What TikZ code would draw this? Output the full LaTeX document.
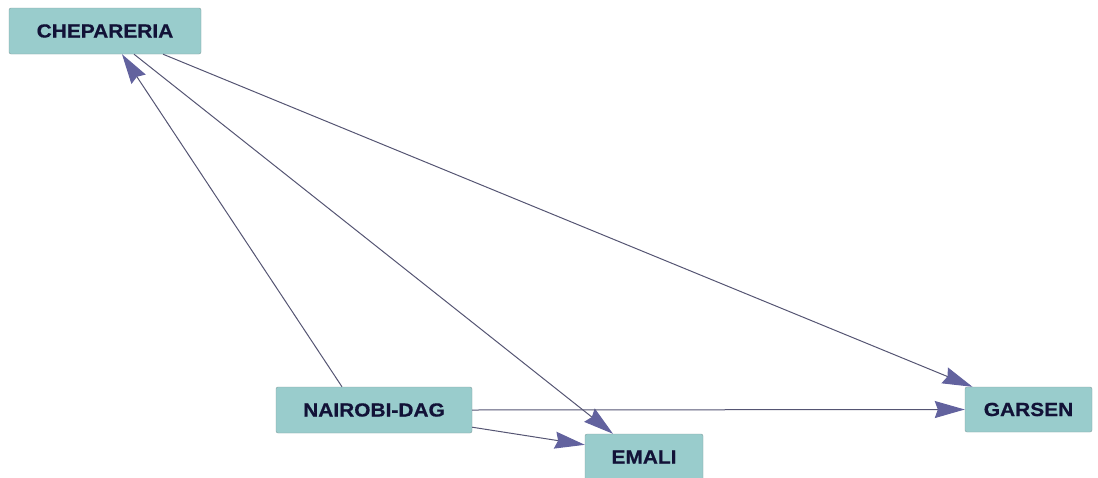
\documentclass[tikz,border=0pt]{standalone}
\usepackage{fontspec}
\setmainfont{Liberation Sans}[FakeStretch=1.1, BoldFeatures={FakeBold=0.6}]
\usetikzlibrary{arrows.meta,calc}
\definecolor{nodefill}{RGB}{153,204,204}
\definecolor{nodeborder}{RGB}{130,160,160}
\definecolor{edgecol}{RGB}{85,85,115}
\definecolor{tipcol}{RGB}{98,98,158}
\definecolor{textcol}{RGB}{18,18,55}
\tikzset{
  city/.style={draw=nodeborder, fill=nodefill, rounded corners=2pt, inner sep=0pt,
    font=\fontsize{19}{22}\selectfont\bfseries, text=textcol},
  link/.style={draw=edgecol, line width=1pt,
    -{Stealth[length=30pt,width=17pt,inset=3pt,color=tipcol,fill=tipcol]}}
}
\begin{document}
\begin{tikzpicture}[x=1pt,y=-1pt]
\useasboundingbox (0,0) rectangle (1098,477);
\node[city, minimum width=192pt, minimum height=46pt] (chep) at (105,31) {CHEPARERIA};
\node[city, minimum width=196pt, minimum height=46pt] (nai) at (374,410) {NAIROBI-DAG};
\node[city, minimum width=118pt, minimum height=46pt] (emali) at (644,457) {EMALI};
\node[city, minimum width=127pt, minimum height=45pt] (garsen) at (1028.5,409.5) {GARSEN};
\draw[link] ($(nai.north)+(-32,0)$) -- ($(chep.south)+(17,0)$);
\draw[link] ($(chep.south)+(29,0)$) -- ($(emali.north)+(-31,0)$);
\draw[link] ($(chep.south)+(58,0)$) -- ($(garsen.north)+(-56,0)$);
\draw[link] (nai.east) -- (garsen.west);
\draw[link] ($(nai.south east)+(0,-6)$) -- ($(emali.north west)+(0,11)$);
\end{tikzpicture}
\end{document}
